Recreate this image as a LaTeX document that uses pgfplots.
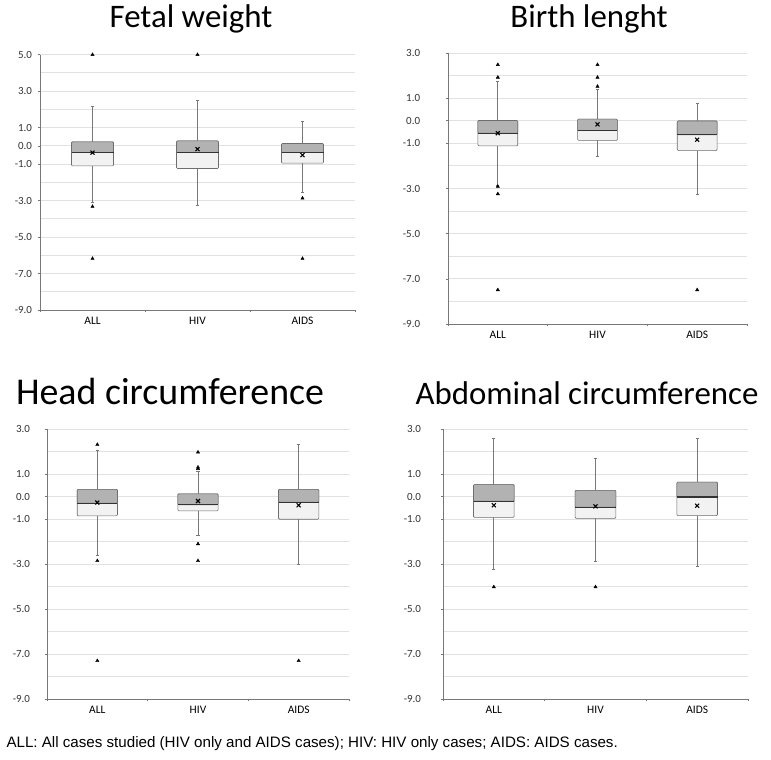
\documentclass[border=0pt]{standalone}
\usepackage{pgfplots}
\pgfplotsset{compat=1.18}
\usepgfplotslibrary{statistics}
\usepackage{fontspec}
\setmainfont{Carlito}
\newfontfamily\arialfont{Liberation Sans}

\definecolor{axisgray}{RGB}{120,120,120}
\definecolor{gridgray}{RGB}{225,225,225}
\definecolor{boxdark}{RGB}{178,178,178}
\definecolor{boxlight}{RGB}{242,242,242}
\definecolor{boxedge}{RGB}{110,110,110}

\pgfplotsset{
  panel/.style={
    scale only axis, anchor=south west,
    xmin=0, xmax=3, ymin=-9,
    axis x line*=bottom, axis y line*=left,
    axis line style={axisgray, line width=0.7pt},
    tick align=outside, major tick length=2.5pt,
    tick style={axisgray, line width=0.6pt},
    xtick={0,1,2,3}, xticklabels={},
    extra x ticks={0.5,1.5,2.5},
    extra x tick labels={ALL,HIV,AIDS},
    extra x tick style={major tick length=0pt},
    x tick label style={font=\fontsize{11.5}{12}\selectfont, yshift=-4pt},
    ymajorgrids, yminorgrids, minor tick length=0pt,
    major grid style={gridgray, line width=0.9pt},
    minor grid style={gridgray, line width=0.9pt},
    clip=false,
  },
  ylab/.style={y tick label style={font=\fontsize{11}{12}\selectfont, text=black!80, xshift=#1}},
  outl/.style={only marks, mark=triangle*, mark size=1.9pt, black},
}

% pos, lower whisker, Q1, median, Q3, upper whisker, mean
\newcommand\bx[7]{%
  \addplot[boxplot prepared={draw direction=y, draw position=#1, lower whisker=#2, lower quartile=#3,
      median=#4, upper quartile=#5, upper whisker=#6, box extend=0.4, whisker extend=0.03},
    draw=boxedge, line width=0.6pt,
    boxplot/every box/.style={fill=boxlight, draw=boxedge, rounded corners=1pt},
    boxplot/every whisker/.style={draw=axisgray, line width=0.7pt},
    boxplot/every median/.style={draw=black!80, line width=1.2pt}] coordinates {};
  \addplot[boxplot prepared={draw direction=y, draw position=#1, lower whisker=#4, lower quartile=#4,
      median=#4, upper quartile=#5, upper whisker=#5, box extend=0.4, whisker extend=0},
    draw=boxedge, line width=0.6pt,
    boxplot/every box/.style={fill=boxdark, draw=boxedge, rounded corners=1pt},
    boxplot/every whisker/.style={draw=none},
    boxplot/every median/.style={draw=black!80, line width=1.2pt}] coordinates {};
  \addplot[only marks, mark=x, mark size=2.8pt, line width=1.1pt, black] coordinates {(#1,#7)};
}

\begin{document}
\begin{tikzpicture}
\useasboundingbox (0,0) rectangle (771bp,760bp);

% Panel 1: Fetal weight
\begin{axis}[panel, ylab=-2pt, at={(40bp,450bp)}, width=315bp, height=255.3bp, ymax=5,
  ytick={-9,-7,-5,-3,-1,0,1,3,5}, minor ytick={-8,-6,-4,-2,2,4},
  yticklabels={-9.0,-7.0,-5.0,-3.0,-1.0,0.0,1.0,3.0,5.0}]
  \bx{0.5}{-3.10}{-1.10}{-0.37}{0.22}{2.19}{-0.37}
  \bx{1.5}{-3.25}{-1.24}{-0.37}{0.27}{2.50}{-0.18}
  \bx{2.5}{-2.56}{-0.95}{-0.37}{0.13}{1.37}{-0.51}
  \addplot[outl] coordinates {(0.5,5.0) (0.5,-3.33) (0.5,-6.18) (1.5,5.0) (2.5,-2.87) (2.5,-6.18)};
\end{axis}
\node[anchor=base, font=\fontsize{33}{36}\selectfont] at (191bp,732bp) {Fetal weight};

% Panel 2: Birth length
\begin{axis}[panel, ylab=-22pt, at={(448bp,436bp)}, width=299bp, height=271bp, ymax=3,
  ytick={-9,-7,-5,-3,-1,0,1,3}, minor ytick={-8,-6,-4,-2,2},
  yticklabels={-9.0,-7.0,-5.0,-3.0,-1.0,0.0,1.0,3.0}]
  \bx{0.5}{-2.84}{-1.11}{-0.55}{0.01}{1.74}{-0.55}
  \bx{1.5}{-1.58}{-0.87}{-0.44}{0.07}{1.37}{-0.16}
  \bx{2.5}{-3.24}{-1.32}{-0.62}{-0.01}{0.78}{-0.84}
  \addplot[outl] coordinates {(0.5,2.48) (0.5,1.92) (0.5,-2.91) (0.5,-3.24) (0.5,-7.49)
    (1.5,2.48) (1.5,1.92) (1.5,1.52) (2.5,-7.49)};
\end{axis}
\node[anchor=base, font=\fontsize{33}{36}\selectfont] at (589bp,732bp) {Birth lenght};

% Panel 3: Head circumference
\begin{axis}[panel, ylab=-11pt, at={(47bp,61bp)}, width=302bp, height=269.7bp, ymax=3,
  ytick={-9,-7,-5,-3,-1,0,1,3}, minor ytick={-8,-6,-4,-2,2},
  yticklabels={-9.0,-7.0,-5.0,-3.0,-1.0,0.0,1.0,3.0}]
  \bx{0.5}{-2.59}{-0.85}{-0.29}{0.33}{2.05}{-0.26}
  \bx{1.5}{-1.74}{-0.63}{-0.36}{0.13}{1.12}{-0.19}
  \bx{2.5}{-3.01}{-1.00}{-0.24}{0.33}{2.35}{-0.38}
  \addplot[outl] coordinates {(0.5,2.32) (0.5,-2.85) (0.5,-7.30)
    (1.5,1.98) (1.5,1.31) (1.5,1.25) (1.5,-2.10) (1.5,-2.85) (2.5,-7.30)};
\end{axis}
\node[anchor=base, font=\fontsize{38}{40}\selectfont] at (170bp,355bp) {Head circumference};

% Panel 4: Abdominal circumference
\begin{axis}[panel, ylab=-16pt, at={(443bp,61bp)}, width=305bp, height=270bp, ymax=3,
  ytick={-9,-7,-5,-3,-1,0,1,3}, minor ytick={-8,-6,-4,-2,2},
  yticklabels={-9.0,-7.0,-5.0,-3.0,-1.0,0.0,1.0,3.0}]
  \bx{0.5}{-3.22}{-0.93}{-0.21}{0.53}{2.60}{-0.39}
  \bx{1.5}{-2.88}{-0.97}{-0.48}{0.27}{1.71}{-0.44}
  \bx{2.5}{-3.11}{-0.85}{-0.02}{0.64}{2.60}{-0.41}
  \addplot[outl] coordinates {(0.5,-4.02) (1.5,-4.02)};
\end{axis}
\node[anchor=base, font=\fontsize{33}{36}\selectfont] at (587bp,355bp) {Abdominal circumference};

\node[anchor=base west, font=\arialfont\fontsize{15.2}{17}\selectfont] at (3bp,13bp)
  {ALL: All cases studied (HIV only and AIDS cases); HIV: HIV only cases; AIDS: AIDS cases.};
\end{tikzpicture}
\end{document}
